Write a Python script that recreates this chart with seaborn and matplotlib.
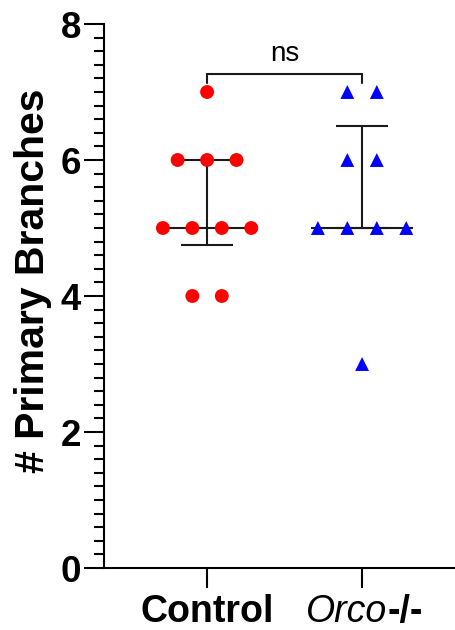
import numpy as np
import pandas as pd
import matplotlib
matplotlib.use("Agg")
import matplotlib.pyplot as plt
from matplotlib.ticker import MultipleLocator
import seaborn as sns

# ---- data ----
groups = ["Control", "Orco-/-"]
control_values = [7, 6, 6, 6, 5, 5, 5, 5, 4, 4]
orco_values = [7, 7, 6, 6, 5, 5, 5, 5, 3]
y_ticks = [0, 2, 4, 6, 8]
y_label = "# Primary Branches"
sig_label = "ns"
colors = {"Control": "#FF0000", "Orco-/-": "#0000FF"}
markers = {"Control": "o", "Orco-/-": "^"}

sns.set_theme(style="ticks")
plt.rcParams["font.family"] = ["Liberation Sans", "DejaVu Sans"]
for k in ["text.color", "axes.labelcolor", "xtick.color", "ytick.color",
          "axes.edgecolor"]:
    plt.rcParams[k] = "black"

# column-scatter layout (points of equal value side by side)
spacing = 0.19
rows = []
for gi, (g, vals) in enumerate(zip(groups, [control_values, orco_values])):
    vals = np.asarray(vals)
    for v in np.unique(vals):
        k = int((vals == v).sum())
        offs = (np.arange(k) - (k - 1) / 2) * spacing
        for o in offs:
            rows.append(dict(group=g, x=gi + o, y=v))
df = pd.DataFrame(rows)

fig = plt.figure(figsize=(4.56, 6.3), dpi=100)
ax = fig.add_axes([104 / 456, 62 / 630, 352 / 456, 544 / 630])

line_col = "#1a1a1a"
lw = 1.5
# median with interquartile range
for gi, vals in enumerate([control_values, orco_values]):
    q1, med, q3 = np.percentile(vals, [25, 50, 75], method="weibull")
    ax.hlines(med, gi - 0.33, gi + 0.33, color=line_col, lw=lw, zorder=2)
    ax.vlines(gi, q1, q3, color=line_col, lw=lw, zorder=2)
    ax.hlines([q1, q3], gi - 0.165, gi + 0.165, color=line_col, lw=lw, zorder=2)

sns.scatterplot(data=df, x="x", y="y", hue="group", style="group",
                palette=colors, markers=markers, s=100, linewidth=0,
                legend=False, ax=ax, zorder=3)

# significance bracket
ax.plot([0, 0, 1, 1], [7.13, 7.26, 7.26, 7.13], color=line_col, lw=lw,
        solid_joinstyle="miter", clip_on=False)
ax.text(0.5, 7.37, sig_label, ha="center", va="bottom", fontsize=20,
        color="black")

ax.set_xlim(-0.665, 1.606)
ax.set_ylim(0, 8)
ax.set_yticks(y_ticks)
ax.yaxis.set_minor_locator(MultipleLocator(0.2))
ax.set_xticks([0, 1])
ax.set_xticklabels(["Control", ""])
for lab in ax.get_xticklabels():
    lab.set_fontweight("bold")
    lab.set_fontsize(27)
for lab in ax.get_yticklabels():
    lab.set_fontweight("bold")

ax.tick_params(axis="y", which="major", length=14.4, width=1.5, pad=2,
               labelsize=26.5)
ax.tick_params(axis="y", which="minor", length=7.2, width=1.5)
ax.tick_params(axis="x", which="major", length=14.4, width=1.5, pad=4)

# Orco-/- label: italic gene name + bold genotype
t1 = ax.annotate("Orco", xy=(1, 0), xycoords=ax.get_xaxis_transform(),
                 xytext=(-15, -(14.4 + 4) * 100 / 72), textcoords="offset pixels",
                 ha="center", va="top", fontsize=27, fontstyle="italic",
                 annotation_clip=False)
ax.annotate("-/-", xy=(1, 0), xycoords=t1, xytext=(0, 0),
            textcoords="offset points", ha="left", va="bottom",
            fontsize=27, fontweight="bold", annotation_clip=False)

ax.set_xlabel("")
ax.set_ylabel(y_label, fontsize=29.5, fontweight="bold")
ax.yaxis.set_label_coords(-0.148, 0.527)

for side in ["top", "right"]:
    ax.spines[side].set_visible(False)
for side in ["left", "bottom"]:
    ax.spines[side].set_linewidth(1.5)
    ax.spines[side].set_color("black")

fig.savefig("out.png", dpi=100)
